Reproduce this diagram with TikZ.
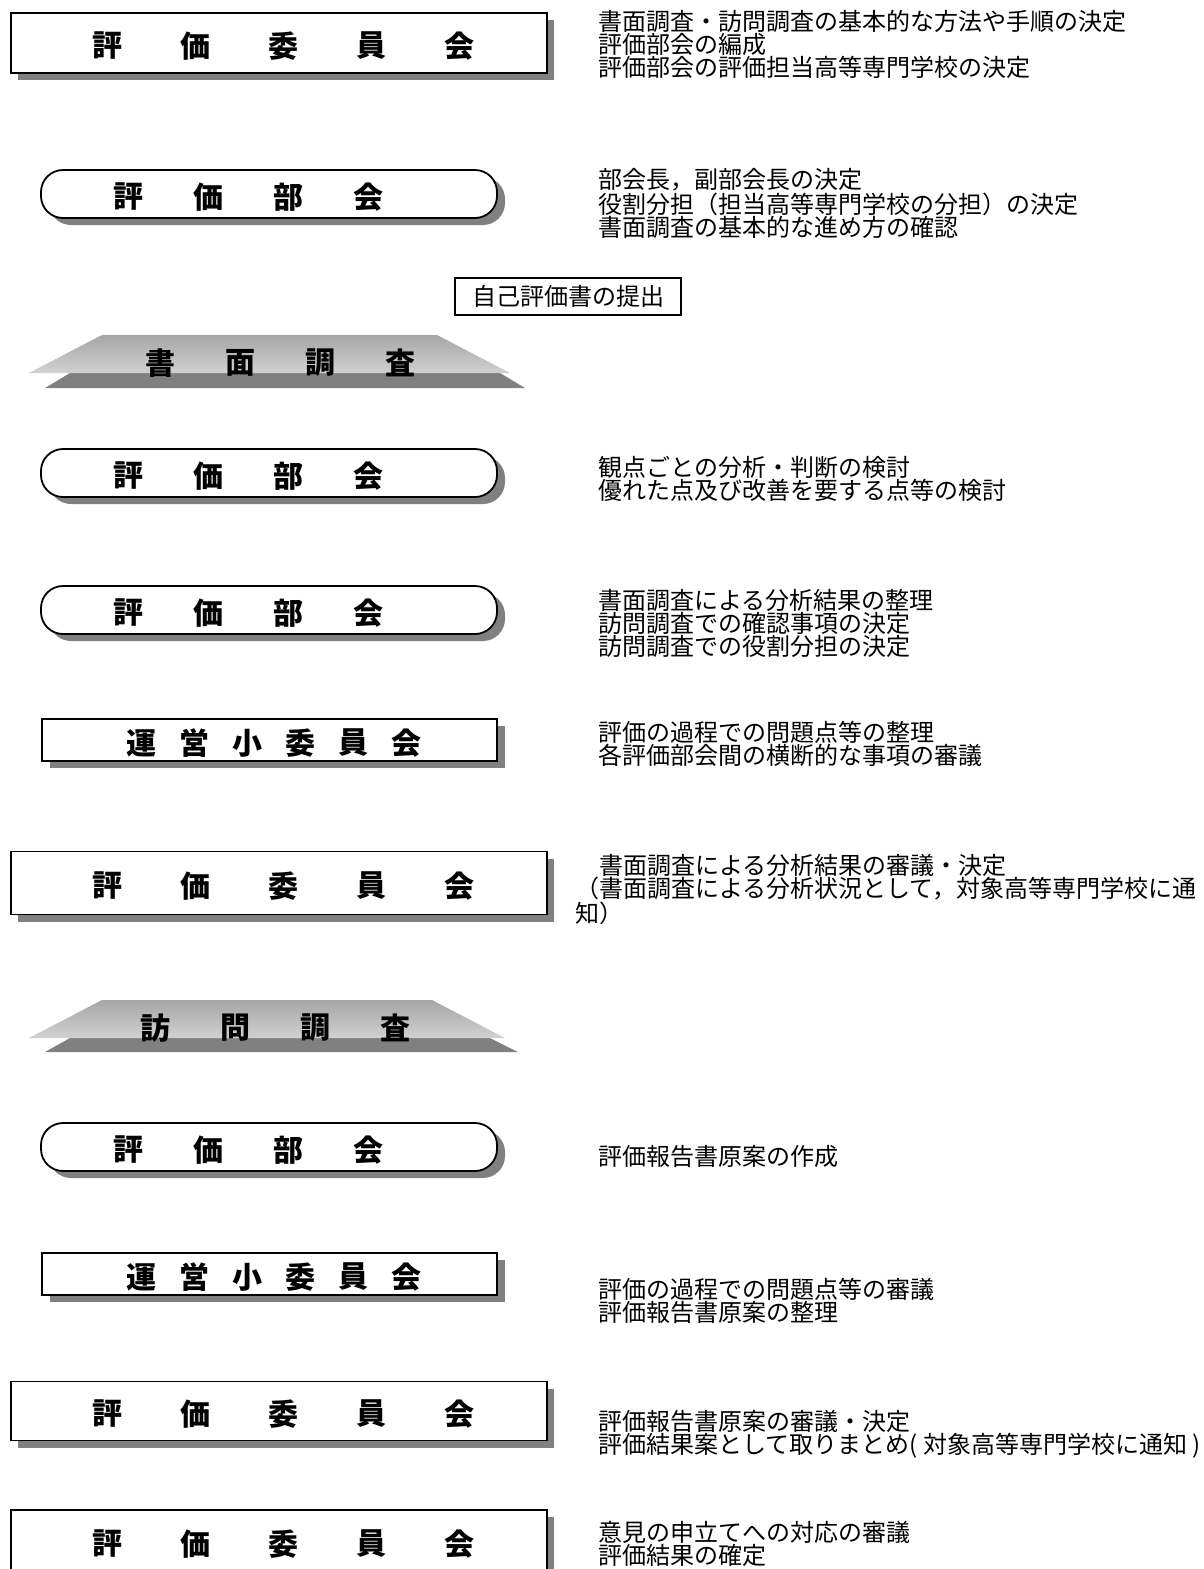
\documentclass[tikz,border=0pt]{standalone}
\usepackage{fontspec}
\setmainfont{Noto Sans CJK JP}
\usetikzlibrary{shadows}

\begin{document}
\begin{tikzpicture}[
    x=0.5pt, y=-0.5pt,
    iinkai/.style    = {rectangle, draw=black, line width=0.9pt, fill=white,
                        minimum width=268pt, minimum height=30pt,
                        drop shadow={shadow xshift=3.5pt, shadow yshift=-3.5pt,
                                     fill=black!50, opacity=1}},
    bukai/.style     = {rectangle, rounded corners=11pt, draw=black,
                        line width=0.9pt, fill=white,
                        minimum width=228pt, minimum height=24pt,
                        drop shadow={shadow xshift=4pt, shadow yshift=-3.5pt,
                                     fill=black!50, opacity=1}},
    shoiinkai/.style = {rectangle, draw=black, line width=0.9pt, fill=white,
                        minimum width=227.5pt, minimum height=21pt,
                        drop shadow={shadow xshift=4pt, shadow yshift=-3.5pt,
                                     fill=black!50, opacity=1}},
    teishutsu/.style = {rectangle, draw=black, line width=1pt,
                        minimum width=113pt, minimum height=18.5pt,
                        font=\fontsize{12pt}{12pt}\selectfont},
    moji/.style      = {font=\bfseries\fontsize{15pt}{15pt}\selectfont},
    memo/.style      = {anchor=north west, align=left,
                        font=\fontsize{12pt}{11.4pt}\selectfont},
    every node/.style = {inner sep=0pt},
  ]
  \clip (0,0) rectangle (1204,1569);
  % evaluation committee
  \foreach \y/\h [count=\n] in {43/60, 883/63, 1411/59, 1541/62}{
    \node[iinkai, minimum height=\h/2 pt] (iin\n) at (279,\y) {};
    \foreach \c [count=\i] in {評,価,委,員,会}
      \node[moji] (iin\n c\i) at ({107+88*(\i-1)},\y+3) {\c};
  }
  % evaluation sub-committee
  \foreach \y [count=\n] in {194,473,610,1147}{
    \node[bukai] (bk\n) at (269,\y) {};
    \foreach \c [count=\i] in {評,価,部,会}
      \node[moji] (bk\n c\i) at ({128+80*(\i-1)},\y+3) {\c};
  }
  % steering sub-committee
  \foreach \y [count=\n] in {740,1274}{
    \node[shoiinkai] (sho\n) at (269.5,\y) {};
    \foreach \c [count=\i] in {運,営,小,委,員,会}
      \node[moji] (sho\n c\i) at ({141+53*(\i-1)},\y+3) {\c};
  }
  % submission
  \node[teishutsu] (jiko) at (568,296.5) {自己評価書の提出};
  % document review banner
  \fill[black!50] (70,373) -- (500,373) -- (525,388) -- (45,388) -- cycle;
  \shade[top color=black!35, bottom color=black!18]
    (102,335) -- (437,335) -- (510,373) -- (29,373) -- cycle;
  \foreach \c [count=\i] in {書,面,調,査}
    \node[moji] (sm\i) at ({160+80*(\i-1)},363) {\c};
  % site visit banner
  \fill[black!50] (70,1038) -- (490,1038) -- (518,1052) -- (45,1052) -- cycle;
  \shade[top color=black!35, bottom color=black!18]
    (102,1000) -- (432,1000) -- (505,1038) -- (29,1038) -- cycle;
  \foreach \c [count=\i] in {訪,問,調,査}
    \node[moji] (hm\i) at ({155+80*(\i-1)},1028) {\c};
  % notes
  \node[memo] (m1) at (598,10) {書面調査・訪問調査の基本的な方法や手順の決定\\
    評価部会の編成\\評価部会の評価担当高等専門学校の決定};
  \node[memo] (m2) at (598,168) {部会長，副部会長の決定\\
    役割分担（担当高等専門学校の分担）の決定\\書面調査の基本的な進め方の確認};
  \node[memo] (m3) at (598,456) {観点ごとの分析・判断の検討\\
    優れた点及び改善を要する点等の検討};
  \node[memo] (m4) at (598,589) {書面調査による分析結果の整理\\
    訪問調査での確認事項の決定\\訪問調査での役割分担の決定};
  \node[memo] (m5) at (598,721) {評価の過程での問題点等の整理\\
    各評価部会間の横断的な事項の審議};
  \node[memo] (m6) at (575,854) {　書面調査による分析結果の審議・決定\\
    （書面調査による分析状況として，対象高等専門学校に通\\知）};
  \node[memo] (m7) at (598,1145) {評価報告書原案の作成};
  \node[memo] (m8) at (598,1278) {評価の過程での問題点等の審議\\
    評価報告書原案の整理};
  \node[memo] (m9) at (598,1410) {評価報告書原案の審議・決定\\
    評価結果案として取りまとめ( 対象高等専門学校に通知 )};
  \node[memo] (m10) at (598,1521) {意見の申立てへの対応の審議\\
    評価結果の確定};
\end{tikzpicture}
\end{document}
